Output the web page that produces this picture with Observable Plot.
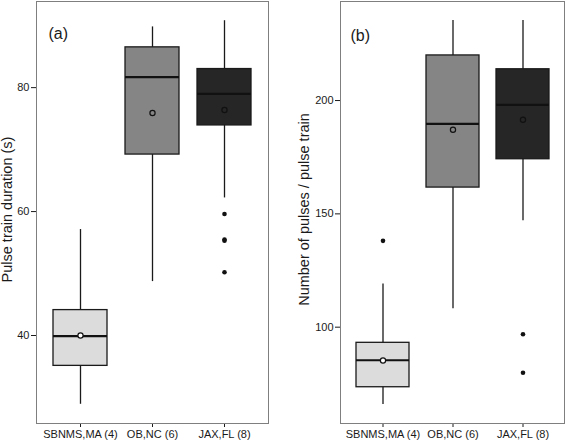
<!DOCTYPE html>
<html>
<head>
<meta charset="utf-8">
<script src="https://cdn.jsdelivr.net/npm/d3@7"></script>
<script src="https://cdn.jsdelivr.net/npm/@observablehq/plot@0.6"></script>
<style>
  html, body { margin: 0; padding: 0; background: #fff; }
  #wrap { position: relative; width: 567px; height: 444px; }
  #pa { position: absolute; left: 0; top: 0; }
  #pb { position: absolute; left: 290px; top: 0; }
</style>
</head>
<body>
<div id="wrap"><div id="pa"></div><div id="pb"></div></div>
<script>
// Categories
const sites = ["SBNMS,MA (4)", "OB,NC (6)", "JAX,FL (8)"];
const boxColors = ["#dcdcdc", "#858585", "#262626"];

// Panel (a): Pulse train duration (s)
const durLow    = [28.9, 48.7, 62.2];
const durQ1     = [35.1, 69.2, 73.9];
const durMedian = [39.9, 81.7, 79.0];
const durQ3     = [44.1, 86.5, 83.0];
const durHigh   = [57.1, 89.8, 90.8];
const durMean   = [40.0, 75.9, 76.4];
const durOutSite  = ["JAX,FL (8)", "JAX,FL (8)", "JAX,FL (8)", "JAX,FL (8)"];
const durOutValue = [59.6, 55.5, 55.3, 50.2];
const durTicks  = [40, 60, 80];

// Panel (b): Number of pulses / pulse train
const npLow    = [65.9, 108.1, 147.0];
const npQ1     = [73.5, 161.6, 174.1];
const npMedian = [85.4, 189.7, 198.1];
const npQ3     = [93.1, 219.9, 213.8];
const npHigh   = [119.0, 235.3, 235.3];
const npMean   = [85.3, 187.1, 191.5];
const npOutSite  = ["SBNMS,MA (4)", "JAX,FL (8)", "JAX,FL (8)"];
const npOutValue = [138.1, 96.9, 79.9];
const npTicks  = [100, 150, 200];

function rowsOf(lo, q1, med, q3, hi, mean) {
  return sites.map((s, i) => ({site: s, lo: lo[i], q1: q1[i], median: med[i], q3: q3[i], hi: hi[i], mean: mean[i]}));
}
function outsOf(ss, vv) { return ss.map((s, i) => ({site: s, value: vv[i]})); }

const FONT = "'Liberation Sans', Arial, Helvetica, sans-serif";
const INK = "#1a1a1a";

function panel({width, marginLeft, marginRight, domain, ticks, rows, outs, title, tag, titleDx, tagDx, tagDy}) {
  return Plot.plot({
    width, height: 444,
    marginLeft, marginRight, marginTop: 1, marginBottom: 21,
    style: {fontFamily: FONT, fontSize: "11px", color: INK, background: "white"},
    x: {type: "band", domain: sites, paddingInner: 0.25, paddingOuter: 0.225, tickSize: 4, tickPadding: 3, label: null},
    y: {domain, ticks, tickSize: 5, tickPadding: 2, label: null},
    color: {domain: sites, range: boxColors},
    marks: [
      Plot.ruleX(rows, {x: "site", y1: "lo", y2: "hi", stroke: INK, strokeWidth: 1.3}),
      Plot.barY(rows, {x: "site", y1: "q1", y2: "q3", fill: "site", stroke: INK, strokeWidth: 1.3}),
      Plot.tickY(rows, {x: "site", y: "median", stroke: "#111", strokeWidth: 2.2}),
      Plot.dot(rows.filter((d, i) => i === 0), {x: "site", y: "mean", r: 2.6, fill: "white", stroke: "#111", strokeWidth: 1.2}),
      Plot.dot(rows.filter((d, i) => i > 0), {x: "site", y: "mean", r: 2.6, fill: "none", stroke: "#111", strokeWidth: 1.2}),
      Plot.dot(outs, {x: "site", y: "value", r: 2.3, fill: "#111", stroke: "none"}),
      Plot.frame({stroke: "#7f7f7f", strokeWidth: 1}),
      Plot.text([title], {text: d => d, frameAnchor: "left", textAnchor: "middle", rotate: -90, dx: titleDx, dy: -3, fontSize: 14.5, fill: INK}),
      Plot.text([tag], {text: d => d, frameAnchor: "top-left", textAnchor: "start", dx: tagDx, dy: tagDy, fontSize: 16, fill: INK})
    ]
  });
}

document.getElementById("pa").append(panel({
  width: 290, marginLeft: 36, marginRight: 22,
  domain: [25.8, 93.9], ticks: durTicks,
  rows: rowsOf(durLow, durQ1, durMedian, durQ3, durHigh, durMean),
  outs: outsOf(durOutSite, durOutValue),
  title: "Pulse train duration (s)", tag: "(a)", titleDx: -29, tagDx: 12, tagDy: 26
}));

document.getElementById("pb").append(panel({
  width: 277, marginLeft: 50, marginRight: 3,
  domain: [57.5, 243.7], ticks: npTicks,
  rows: rowsOf(npLow, npQ1, npMedian, npQ3, npHigh, npMean),
  outs: outsOf(npOutSite, npOutValue),
  title: "Number of pulses / pulse train", tag: "(b)", titleDx: -36, tagDx: 10, tagDy: 28
}));
</script>
</body>
</html>
